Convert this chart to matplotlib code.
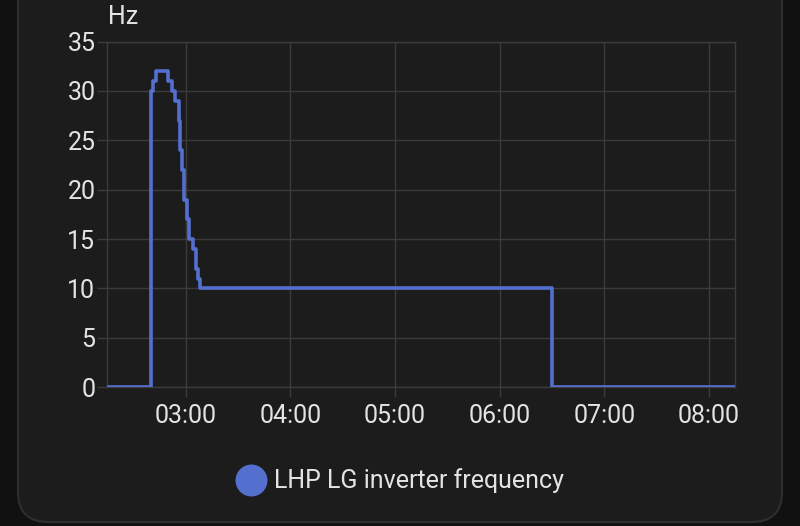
import pandas as pd
import matplotlib.pyplot as plt
import matplotlib.dates as mdates
from matplotlib.lines import Line2D
from matplotlib.patches import FancyBboxPatch

# Inverter frequency readings (step changes)
times = ['02:15', '02:40', '02:41', '02:43', '02:50', '02:52', '02:54', '02:56',
         '02:57', '02:58', '02:59', '03:01', '03:02', '03:04', '03:06', '03:07',
         '03:08', '06:30', '08:15']
freq = [0, 30, 31, 32, 31, 30, 29, 27, 24, 22, 19, 17, 15, 14, 12, 11, 10, 0, 0]
y_ticks = [0, 5, 10, 15, 20, 25, 30, 35]
series_name = 'LHP LG inverter frequency'
unit = 'Hz'

t = pd.to_datetime(['2024-01-01 ' + s for s in times])

bg_outer = '#111111'
bg_card = '#1c1c1c'
grid_col = '#3b3b3b'
text_col = '#e3e3e3'
line_col = '#5470cf'

plt.rcParams['font.family'] = ['Roboto', 'DejaVu Sans']

fig = plt.figure(figsize=(8, 5.26), dpi=100)
fig.patch.set_facecolor(bg_outer)

# card background
card = FancyBboxPatch((0.18 + 0.3, 0.04 + 0.3), 7.64 - 0.6, 6.0,
                      boxstyle='round,pad=0.3', transform=fig.dpi_scale_trans,
                      facecolor=bg_card, edgecolor='#2f2f2f', linewidth=1.5,
                      zorder=-5)
fig.patches.append(card)

ax = fig.add_axes([0.134, 0.264, 0.785, 0.657])
ax.set_facecolor(bg_card)
ax.step(t, freq, where='post', color=line_col, linewidth=2.6, zorder=3)

ax.set_xlim(t[0], t[-1])
ax.set_ylim(0, 35)
ax.set_yticks(y_ticks)
ax.xaxis.set_major_locator(mdates.HourLocator())
ax.xaxis.set_major_formatter(mdates.DateFormatter('%H:%M'))

ax.grid(True, color=grid_col, linewidth=1)
for s in ax.spines.values():
    s.set_color(grid_col)
    s.set_linewidth(1)
ax.tick_params(axis='both', colors=grid_col, labelcolor=text_col,
               labelsize=18, length=7.5, width=1)
ax.tick_params(axis='y', pad=1)
ax.tick_params(axis='x', pad=5)

fig.text(108 / 800, 1 - 17 / 526, unit, color=text_col, fontsize=18,
         ha='left', va='center')

handle = Line2D([], [], marker='o', linestyle='none', markersize=22,
                color=line_col)
leg = fig.legend([handle], [series_name], loc='center',
                 bbox_to_anchor=(0.5, 1 - 481 / 526), frameon=False,
                 fontsize=18, handletextpad=0.3, handlelength=1.2)
for txt in leg.get_texts():
    txt.set_color(text_col)

fig.savefig('out.png', dpi=100, facecolor=fig.get_facecolor())
plt.close()
